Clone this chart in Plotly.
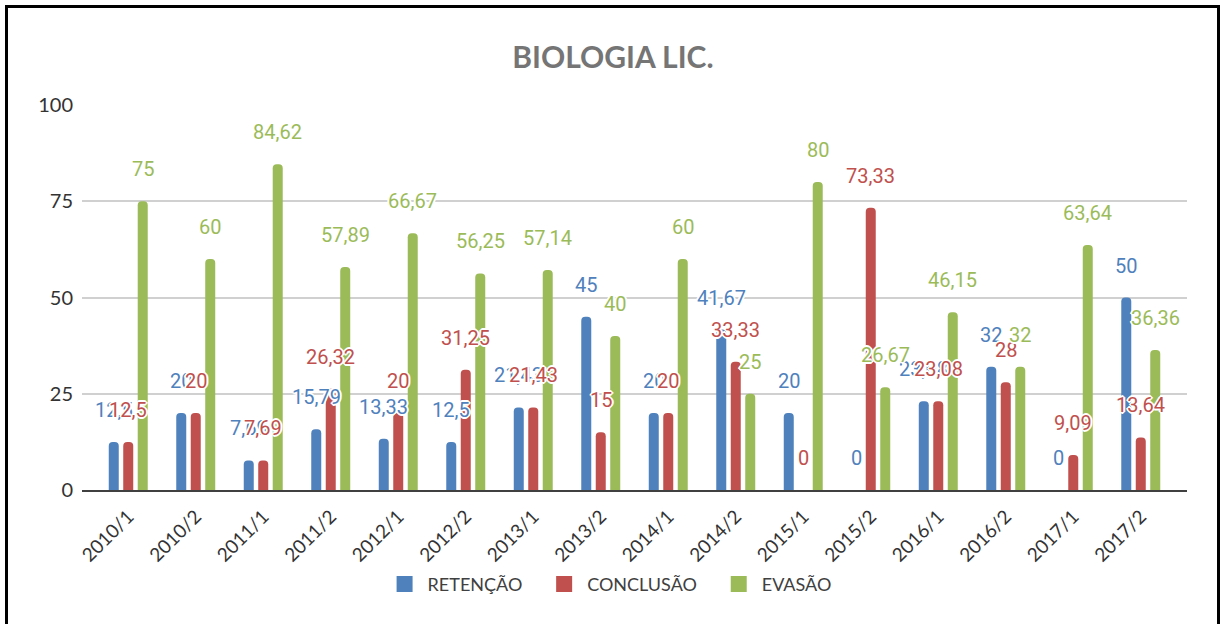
import plotly.graph_objects as go

categories = ["2010/1", "2010/2", "2011/1", "2011/2", "2012/1", "2012/2", "2013/1", "2013/2",
              "2014/1", "2014/2", "2015/1", "2015/2", "2016/1", "2016/2", "2017/1", "2017/2"]
retencao = [12.5, 20, 7.69, 15.79, 13.33, 12.5, 21.43, 45, 20, 41.67, 20, 0, 23.08, 32, 0, 50]
conclusao = [12.5, 20, 7.69, 26.32, 20, 31.25, 21.43, 15, 20, 33.33, 0, 73.33, 23.08, 28, 9.09, 13.64]
evasao = [75, 60, 84.62, 57.89, 66.67, 56.25, 57.14, 40, 60, 25, 80, 26.67, 46.15, 32, 63.64, 36.36]

series = [("RETENÇÃO", retencao, "#4f81bd"),
          ("CONCLUSÃO", conclusao, "#c0504d"),
          ("EVASÃO", evasao, "#9bbb59")]

def fmt(v):
    return f"{v:g}".replace(".", ",")

fig = go.Figure()
for name, vals, color in series:
    fig.add_trace(go.Bar(x=categories, y=vals, name=name, marker_color=color,
                         marker_line_width=0, showlegend=False))
# legend entries with larger square swatches
pad = "&nbsp;" * 3
for k, (name, vals, color) in enumerate(series):
    fig.add_trace(go.Scatter(x=[None], y=[None], mode="markers",
                             name=name + (pad if k < len(series) - 1 else ""),
                             marker=dict(symbol="square", size=16, color=color)))

halo = ("-1px -1px 0 #fff, 1px -1px 0 #fff, -1px 1px 0 #fff, 1px 1px 0 #fff, "
        "0 -2px 0 #fff, 0 2px 0 #fff, -2px 0 0 #fff, 2px 0 0 #fff")
annotations = []
slot = 14.5
for i, (name, vals, color) in enumerate(series):
    for cat, v in zip(categories, vals):
        annotations.append(dict(
            x=cat, y=v, xref="x", yref="y", text=fmt(v), showarrow=False,
            xshift=(i - 1) * slot, yshift=32, yanchor="middle", xanchor="center",
            font=dict(family="Roboto", size=20, color=color, shadow=halo)))

fig.update_layout(
    width=1221, height=624,
    margin=dict(l=82, r=34, t=105, b=134),
    paper_bgcolor="white", plot_bgcolor="white",
    barmode="group", bargap=0.356, bargroupgap=0.31, barcornerradius=4,
    title=dict(text="<b>BIOLOGIA LIC.</b>", x=0.502, xanchor="center", y=0.908, yanchor="middle",
               font=dict(family="Lato", size=30, color="#757575")),
    font=dict(family="Lato", color="#404040"),
    legend=dict(orientation="h", x=0.477, xanchor="center", y=-0.245, yanchor="middle",
                font=dict(family="Lato", size=18, color="#404040"), itemwidth=36,
                traceorder="normal"),
    annotations=annotations,
    shapes=[dict(type="rect", xref="paper", yref="paper",
                 x0=(6.5 - 82) / 1105, x1=(1218.5 - 82) / 1105,
                 y0=(490 - 640) / 385, y1=(490 - 6.5) / 385,
                 line=dict(color="black", width=3), fillcolor="rgba(0,0,0,0)")],
)
fig.update_xaxes(type="category", range=[-0.685, 15.685], tickangle=-45,
                 showline=True, linecolor="#404040", linewidth=2, showgrid=False,
                 ticklabelstandoff=6,
                 tickfont=dict(family="Lato", size=19, color="#333333"), ticks="")
fig.update_yaxes(range=[0, 100], tickvals=[0, 25, 50, 75, 100], showgrid=True,
                 gridcolor="#d0d0d0", gridwidth=1.5, zeroline=False, showline=False,
                 ticklabelstandoff=8,
                 tickfont=dict(family="Lato", size=20, color="#333333"), ticks="")

fig.write_html("out.html", config={"displayModeBar": False},
               post_script="document.body.style.margin='0';")
